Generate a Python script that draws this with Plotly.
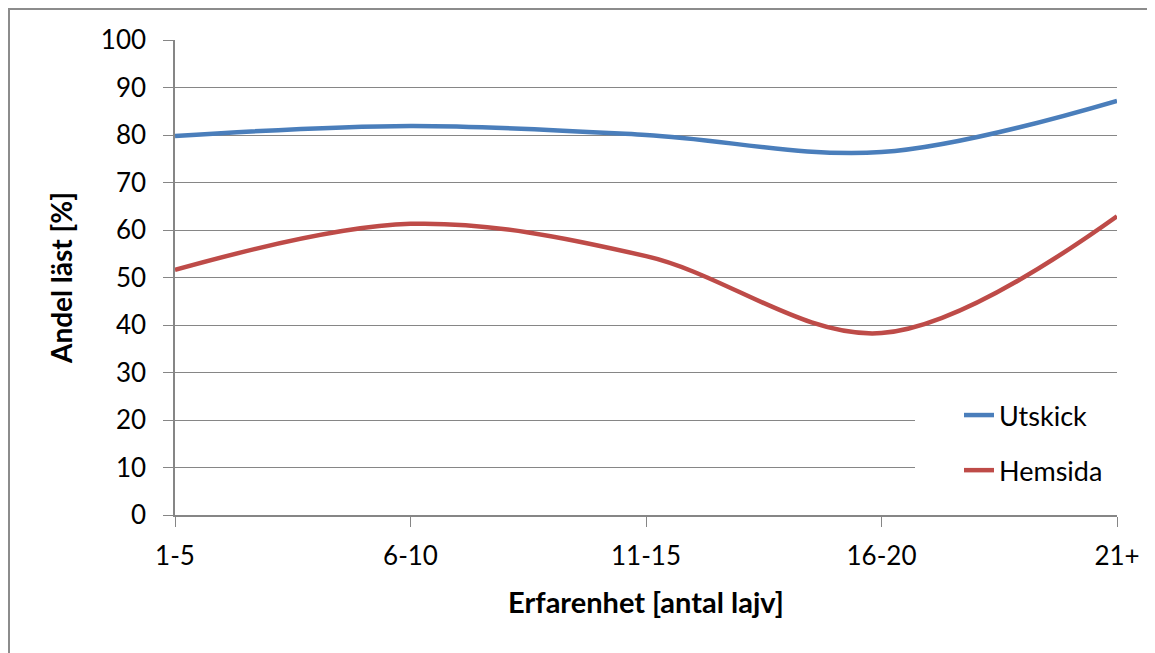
import plotly.graph_objects as go

categories = ["1-5", "6-10", "11-15", "16-20", "21+"]
utskick = [79.8, 81.9, 80.0, 76.4, 87.2]
hemsida = [51.6, 61.3, 54.5, 38.3, 62.9]
y_ticks = [0, 10, 20, 30, 40, 50, 60, 70, 80, 90, 100]

FONT = "Lato"
W, H = 1147, 645
L, R, T, B = 167, 38, 32, 138
PW, PH = W - L - R, H - T - B

fig = go.Figure()
fig.add_trace(go.Scatter(x=categories, y=utskick, name="Utskick", mode="lines",
                         line=dict(color="#4a7ebb", width=4.5, shape="spline", smoothing=1),
                         legendgroup="a"))
fig.add_trace(go.Scatter(x=categories, y=hemsida, name="Hemsida", mode="lines",
                         line=dict(color="#be4b48", width=4.5, shape="spline", smoothing=1),
                         legendgroup="b"))

fig.update_layout(
    width=W, height=H,
    margin=dict(l=L, r=R, t=T, b=B),
    paper_bgcolor="white", plot_bgcolor="white",
    font=dict(family=FONT, size=26, color="#000000"),
    showlegend=True,
    legend=dict(x=(959 - 175) / PW, y=(515 - 391) / PH, xanchor="left", yanchor="top",
                bgcolor="rgba(0,0,0,0)", font=dict(size=27, color="#000"),
                traceorder="grouped", tracegroupgap=17),
    xaxis=dict(type="category", range=[0, 4], showline=True, linecolor="#868686",
               linewidth=1.5, ticks="outside", ticklen=10, tickcolor="#868686",
               showgrid=False, zeroline=False, ticklabelstandoff=7,
               title=dict(text="<b>Erfarenhet [antal lajv]</b>", font=dict(size=29), standoff=23)),
    yaxis=dict(range=[0, 100], tickvals=y_ticks, showline=True, linecolor="#868686",
               linewidth=1.5, ticks="outside", ticklen=10, tickcolor="#868686",
               showgrid=True, gridcolor="#868686", gridwidth=1, zeroline=False,
               ticklabelstandoff=12,
               title=dict(text="<b>Andel läst [%]</b>", font=dict(size=28), standoff=20)),
    shapes=[
        dict(type="rect", xref="paper", yref="paper",
             x0=-166 / PW, x1=1.2, y0=-0.5, y1=1 + 31 / PH,
             line=dict(color="#8c8c8c", width=2), layer="below"),
        dict(type="rect", xref="paper", yref="paper",
             x0=(915 - 175) / PW, x1=1.0, y0=(515 - 492) / PH, y1=(515 - 393) / PH,
             fillcolor="white", line=dict(width=0), layer="above"),
    ],
)
fig.write_html("out.html")
